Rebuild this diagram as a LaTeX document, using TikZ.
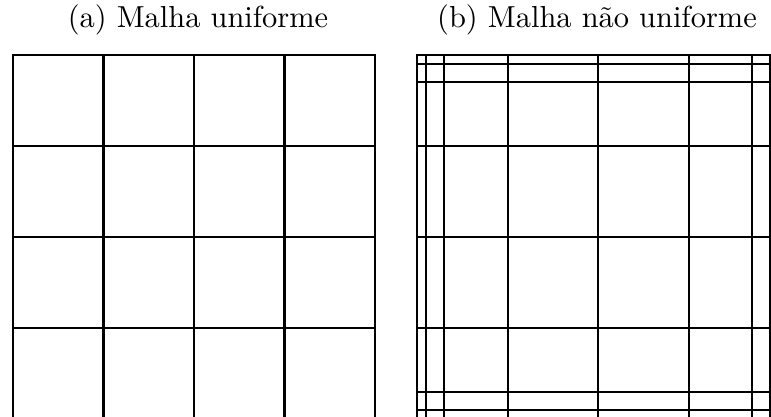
\documentclass[tikz,border=0pt]{standalone}
\begin{document}
\begin{tikzpicture}[x=0.36pt,y=-0.36pt,
  gridline/.style={line width=0.75pt, line cap=rect},
  title/.style={font=\fontsize{10.95}{13.6}\selectfont, inner sep=0pt, anchor=base}]
\useasboundingbox (0,0) rectangle (771,416);
\clip (0,0) rectangle (771,416);
% (a) uniform mesh
\foreach \v in {13,103.5,194,284.5,375}{
  \draw[gridline] (\v,55) -- (\v,417);
}
\foreach \h in {55,146,237,328}{
  \draw[gridline] (13,\h) -- (375,\h);
}
% (b) non-uniform mesh
\foreach \v in {417,426,444,508,598,689,752,770}{
  \draw[gridline] (\v,55) -- (\v,417);
}
\foreach \h in {55,64,82,146,237,328,392,410}{
  \draw[gridline] (417,\h) -- (780,\h);
}
\node[title] (ta) at (198,28) {(a) Malha uniforme};
\node[title] (tb) at (597,28) {(b) Malha não uniforme};
\end{tikzpicture}
\end{document}
